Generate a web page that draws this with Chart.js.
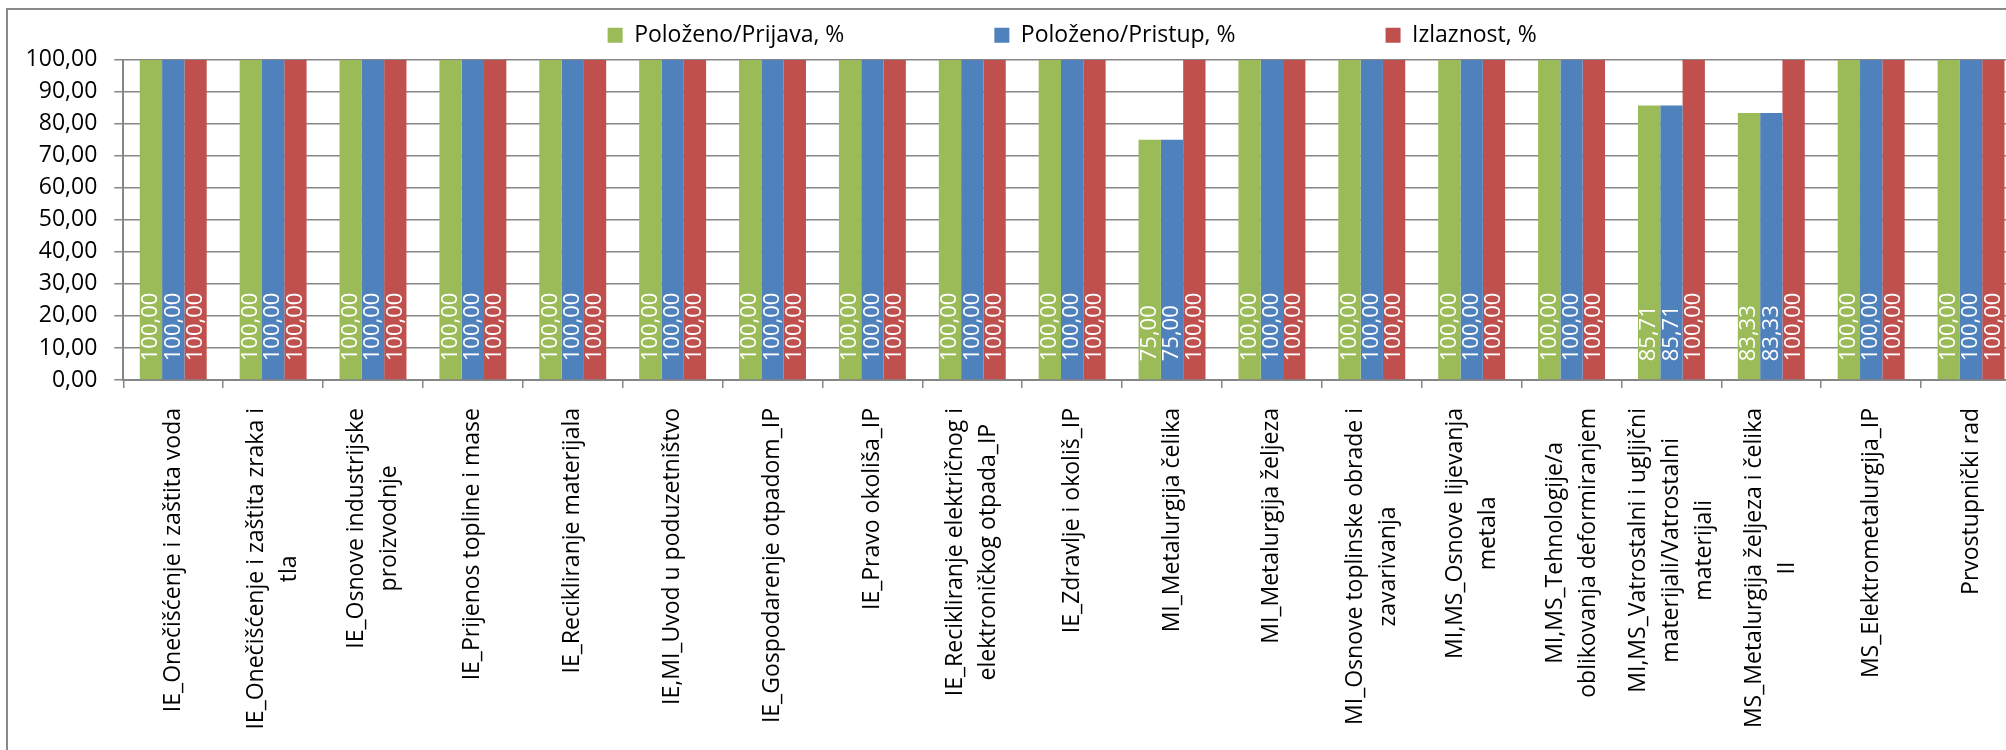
<!DOCTYPE html>
<html><head><meta charset="utf-8">
<script src="https://cdn.jsdelivr.net/npm/chart.js@4.4.1/dist/chart.umd.min.js"></script>
<style>
html,body{margin:0;padding:0;overflow:hidden;background:#fff;width:2006px;height:750px}
#wrap{position:absolute;left:0;top:0;width:2040px;height:770px}
</style></head><body>
<div id="wrap"><canvas id="c" width="2040" height="770"></canvas></div>
<script>
const categories = [
  "IE_Onečišćenje i zaštita voda",
  ["IE_Onečišćenje i zaštita zraka i", "tla"],
  ["IE_Osnove industrijske", "proizvodnje"],
  "IE_Prijenos topline i mase",
  "IE_Recikliranje materijala",
  "IE,MI_Uvod u poduzetništvo",
  "IE_Gospodarenje otpadom_IP",
  "IE_Pravo okoliša_IP",
  ["IE_Recikliranje električnog i", "elektroničkog otpada_IP"],
  "IE_Zdravlje i okoliš_IP",
  "MI_Metalurgija čelika",
  "MI_Metalurgija željeza",
  ["MI_Osnove toplinske obrade i", "zavarivanja"],
  ["MI,MS_Osnove lijevanja", "metala"],
  ["MI,MS_Tehnologije/a", "oblikovanja deformiranjem"],
  ["MI,MS_Vatrostalni i ugljični", "materijali/Vatrostalni", "materijali"],
  ["MS_Metalurgija željeza i čelika", "II"],
  "MS_Elektrometalurgija_IP",
  "Prvostupnički rad"
];
const seriesNames = ["Položeno/Prijava, %", "Položeno/Pristup, %", "Izlaznost, %"];
const polozenoPrijava = [100,100,100,100,100,100,100,100,100,100,75,100,100,100,100,85.71,83.33,100,100];
const polozenoPristup = [100,100,100,100,100,100,100,100,100,100,75,100,100,100,100,85.71,83.33,100,100];
const izlaznost       = [100,100,100,100,100,100,100,100,100,100,100,100,100,100,100,100,100,100,100];
const yMin = 0, yMax = 100, yStep = 10;

const fmt = v => Number(v).toFixed(2).replace('.', ',');
const FONT = '"Open Sans", "DejaVu Sans", sans-serif';
const GRID = '#868686';
const LEGEND_SHIFT = 3;

const framePlugin = {
  id: 'frame',
  beforeDraw(chart) {
    const ctx = chart.ctx;
    ctx.save();
    ctx.strokeStyle = '#898989';
    ctx.lineWidth = 2;
    ctx.strokeRect(7, 9, 2200, 900);
    ctx.restore();
  }
};

const legendShift = {
  id: 'legendShift',
  afterLayout(chart) {
    if (chart.legend) { chart.legend.top -= LEGEND_SHIFT; chart.legend.bottom -= LEGEND_SHIFT; }
  }
};

const xLabelsPlugin = {
  id: 'xLabels',
  afterDraw(chart) {
    const ctx = chart.ctx, xs = chart.scales.x;
    const lineH = 33;
    ctx.save();
    ctx.font = '23px ' + FONT;
    ctx.fillStyle = '#000';
    ctx.textAlign = 'center';
    ctx.textBaseline = 'middle';
    categories.forEach((lab, i) => {
      const lines = Array.isArray(lab) ? lab : [lab];
      const x = xs.getPixelForTick(i);
      const maxW = Math.max(...lines.map(l => ctx.measureText(l).width));
      ctx.save();
      ctx.translate(x, xs.top + 28);
      ctx.rotate(-Math.PI / 2);
      lines.forEach((l, k) => ctx.fillText(l, -maxW / 2, (k - (lines.length - 1) / 2) * lineH));
      ctx.restore();
    });
    ctx.restore();
  }
};

const dataLabelsPlugin = {
  id: 'dataLabels',
  afterDatasetsDraw(chart) {
    const ctx = chart.ctx;
    ctx.save();
    ctx.font = '22px ' + FONT;
    ctx.fillStyle = '#fff';
    ctx.textAlign = 'left';
    ctx.textBaseline = 'middle';
    chart.data.datasets.forEach((ds, di) => {
      chart.getDatasetMeta(di).data.forEach((bar, j) => {
        ctx.save();
        ctx.translate(bar.x, bar.base - 18);
        ctx.rotate(-Math.PI / 2);
        ctx.fillText(fmt(ds.data[j]), 0, 0);
        ctx.restore();
      });
    });
    ctx.restore();
  }
};

new Chart(document.getElementById('c'), {
  type: 'bar',
  data: {
    labels: categories,
    datasets: [
      { label: seriesNames[0], data: polozenoPrijava, backgroundColor: '#9BBB59', borderWidth: 0 },
      { label: seriesNames[1], data: polozenoPristup, backgroundColor: '#4F81BD', borderWidth: 0 },
      { label: seriesNames[2], data: izlaznost, backgroundColor: '#C0504D', borderWidth: 0 }
    ]
  },
  options: {
    responsive: false,
    animation: false,
    layout: { padding: { top: -123.3, right: 19, left: 0, bottom: 0 } },
    datasets: { bar: { categoryPercentage: 0.67, barPercentage: 1 } },
    plugins: {
      legend: {
        position: 'top',
        fullSize: false,
        labels: { font: { family: FONT, size: 23 }, color: '#000', boxWidth: 15, boxHeight: 15, padding: 150 }
      },
      tooltip: { enabled: false }
    },
    scales: {
      x: {
        grid: { display: true, drawOnChartArea: false, drawTicks: true, tickLength: 8, color: GRID, lineWidth: 1.5, offset: true },
        border: { display: true, color: GRID, width: 2 },
        ticks: { display: false },
        afterFit(s) { s.height = 390; }
      },
      y: {
        min: yMin, max: yMax,
        ticks: { stepSize: yStep, padding: 17, font: { family: FONT, size: 23 }, color: '#000', callback: v => fmt(v) },
        grid: { color: GRID, lineWidth: 1.5, tickLength: 9, drawTicks: true },
        border: { display: true, color: GRID, width: 2 },
        afterFit(s) { s.width = 123.3; }
      }
    }
  },
  plugins: [framePlugin, legendShift, dataLabelsPlugin, xLabelsPlugin]
});
</script>
</body></html>
